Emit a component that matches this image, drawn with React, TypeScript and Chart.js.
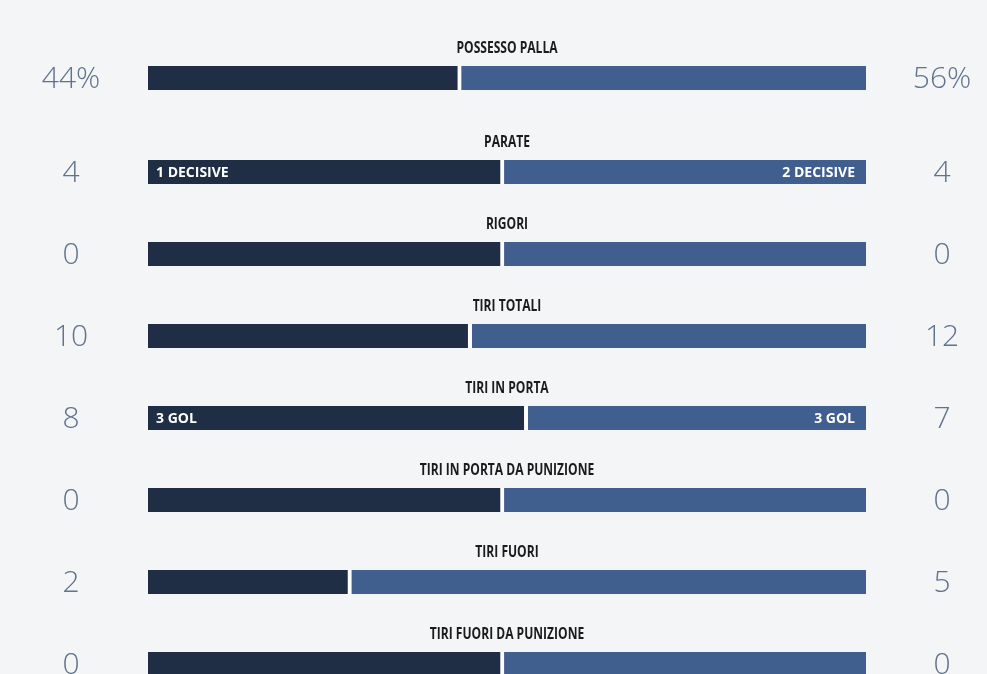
import React, { useEffect, useRef } from "react";
import { Chart, registerables } from "chart.js";

Chart.register(...registerables);

const categories = [
  "POSSESSO PALLA",
  "PARATE",
  "RIGORI",
  "TIRI TOTALI",
  "TIRI IN PORTA",
  "TIRI IN PORTA DA PUNIZIONE",
  "TIRI FUORI",
  "TIRI FUORI DA PUNIZIONE",
];
const homeValues = [44, 4, 0, 10, 8, 0, 2, 0];
const awayValues = [56, 4, 0, 12, 7, 0, 5, 0];
const valueSuffixes = ["%", "", "", "", "", "", "", ""];
const homeNotes = ["", "1 DECISIVE", "", "", "3 GOL", "", "", ""];
const awayNotes = ["", "2 DECISIVE", "", "", "3 GOL", "", "", ""];

const BG = "#f3f5f7";
const DARK = "#1f2d45";
const LIGHT = "#415f8e";
const NUM = "#5f738c";
const TITLE = "#1b1b1b";
const SCALE_MAX = 100.85;

function RowChart({ index }: { index: number }) {
  const ref = useRef<HTMLCanvasElement | null>(null);
  useEffect(() => {
    const h = homeValues[index];
    const a = awayValues[index];
    const total = h + a;
    const hp = total ? (h / total) * 100 : 50;
    const textPlugin = {
      id: "rowText",
      afterDraw(chart: any) {
        const ctx = chart.ctx;
        const area = chart.chartArea;
        const meta = chart.getDatasetMeta(0);
        const bar = meta.data[0];
        const cy = bar.y;
        const cx = (area.left + area.right) / 2;
        ctx.save();
        ctx.textBaseline = "middle";
        // title (condensed)
        ctx.fillStyle = TITLE;
        ctx.textAlign = "center";
        ctx.font = 'bold 16px "Open Sans", sans-serif';
        const ref = ctx.measureText("POSSESSO PALLA").width;
        const sx = 101 / ref;
        ctx.save();
        ctx.translate(cx, cy - 30);
        ctx.scale(sx, 1);
        ctx.fillText(categories[index], 0, 0);
        ctx.restore();
        // values
        ctx.fillStyle = NUM;
        ctx.font = '300 30px "Open Sans", sans-serif';
        ctx.textAlign = "center";
        ctx.fillText(String(h) + valueSuffixes[index], area.left - 77, cy + 1);
        ctx.fillText(String(a) + valueSuffixes[index], area.right + 76, cy + 1);
        // inner notes
        ctx.fillStyle = "#ffffff";
        ctx.font = 'bold 14px "Open Sans", sans-serif';
        if (homeNotes[index]) {
          ctx.textAlign = "left";
          ctx.fillText(homeNotes[index], area.left + 8, cy + 1);
        }
        if (awayNotes[index]) {
          ctx.textAlign = "right";
          ctx.fillText(awayNotes[index], area.right - 11, cy + 1);
        }
        ctx.restore();
      },
    };
    const chart = new Chart(ref.current as HTMLCanvasElement, {
      type: "bar",
      data: {
        labels: [categories[index]],
        datasets: [
          {
            data: [hp],
            backgroundColor: DARK,
            borderColor: "#ffffff",
            borderWidth: { top: 0, right: 4, bottom: 0, left: 0 },
            borderSkipped: false,
            barThickness: 24,
          },
          {
            data: [SCALE_MAX - hp],
            backgroundColor: LIGHT,
            borderWidth: 0,
            barThickness: 24,
          },
        ],
      },
      options: {
        indexAxis: "y",
        animation: false,
        responsive: false,
        devicePixelRatio: 1,
        layout: { padding: { left: 148, right: 121, top: 29, bottom: 29 } },
        plugins: { legend: { display: false }, tooltip: { enabled: false } },
        scales: {
          x: { display: false, stacked: true, min: 0, max: SCALE_MAX },
          y: { display: false, stacked: true },
        },
      },
      plugins: [textPlugin],
    } as any);
    return () => chart.destroy();
  }, [index]);
  return (
    <canvas
      ref={ref}
      width={987}
      height={82}
      style={{ display: "block", width: 987, height: 82, marginBottom: index === 0 ? 12 : 0 }}
    />
  );
}

export default function App() {
  return (
    <div
      style={{
        position: "absolute",
        top: 0,
        left: 0,
        width: 987,
        height: 674,
        overflow: "hidden",
        background: BG,
      }}
    >
      <div style={{ paddingTop: 37 }}>
        {categories.map((_, i) => (
          <RowChart key={i} index={i} />
        ))}
      </div>
    </div>
  );
}
